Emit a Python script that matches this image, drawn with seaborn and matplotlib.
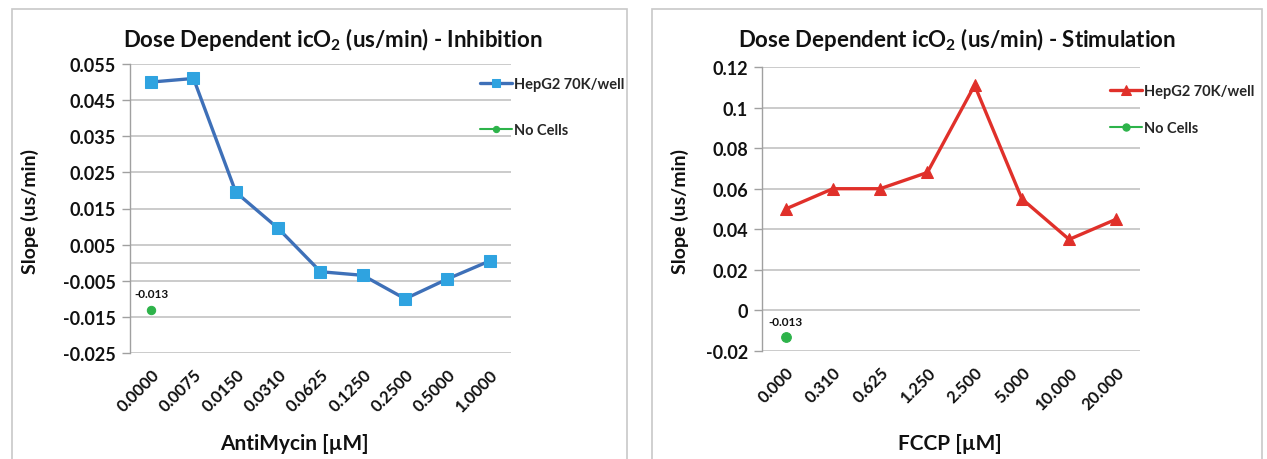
import numpy as np
import pandas as pd
import matplotlib
matplotlib.use("Agg")
import matplotlib.pyplot as plt
from matplotlib.patches import Rectangle
import seaborn as sns

# ---------------- data ----------------
antimycin_doses = ["0.0000", "0.0075", "0.0150", "0.0310", "0.0625",
                   "0.1250", "0.2500", "0.5000", "1.0000"]
antimycin_hepg2 = [0.050, 0.051, 0.0195, 0.0095, -0.0025, -0.0035, -0.010, -0.0045, 0.0005]
antimycin_nocells = [-0.013]

fccp_doses = ["0.000", "0.310", "0.625", "1.250", "2.500", "5.000", "10.000", "20.000"]
fccp_hepg2 = [0.050, 0.060, 0.060, 0.068, 0.111, 0.055, 0.035, 0.045]
fccp_nocells = [-0.013]

left_yticks = [0.055, 0.045, 0.035, 0.025, 0.015, 0.005, -0.005, -0.015, -0.025]
left_yticklabels = ["0.055", "0.045", "0.035", "0.025", "0.015", "0.005", "-0.005", "-0.015", "-0.025"]
right_yticks = [0.12, 0.1, 0.08, 0.06, 0.04, 0.02, 0, -0.02]
right_yticklabels = ["0.12", "0.1", "0.08", "0.06", "0.04", "0.02", "0", "-0.02"]

series_label = "HepG2 70K/well"
nocells_label = "No Cells"
nocells_text = "-0.013"

# ---------------- style ----------------
sns.set_theme(style="white")
FONT = "Lato"
plt.rcParams["font.family"] = [FONT, "DejaVu Sans"]
plt.rcParams["font.weight"] = "bold"
plt.rcParams["mathtext.fontset"] = "custom"
plt.rcParams["mathtext.rm"] = "Lato:bold"
plt.rcParams["mathtext.it"] = "Lato:bold"
plt.rcParams["mathtext.bf"] = "Lato:bold"

W, H = 1267, 460
fig = plt.figure(figsize=(W / 100, H / 100), dpi=100)
fig.patch.set_facecolor("white")

def fx(px):
    return px / W

def fy(py):
    return 1 - py / H

# panel frames
for x0, x1 in [(12, 627), (652, 1262)]:
    fig.patches.append(Rectangle((fx(x0), fy(462)), fx(x1 - x0), fy(10) - fy(462),
                                 transform=fig.transFigure, fill=False,
                                 edgecolor="#C8C8C8", linewidth=1.2))

GRID = "#BDBDBD"
TXT = "#111111"

def style_axes(ax, cats, yticks, ylabels, ylim):
    ax.set_xlim(-0.5, len(cats) - 0.5)
    ax.set_ylim(*ylim)
    ax.set_yticks(yticks)
    ax.set_yticklabels(ylabels, fontsize=13, fontweight="bold", color=TXT)
    ax.set_xticks(np.arange(len(cats)))
    ax.set_xticklabels(cats, rotation=45, ha="right", rotation_mode="anchor",
                       fontsize=12, fontweight="bold", color=TXT)
    ax.yaxis.grid(True, color=GRID, linewidth=1.1)
    ax.set_axisbelow(True)
    for s in ["top", "right", "bottom"]:
        ax.spines[s].set_visible(False)
    ax.spines["left"].set_color("#A0A0A0")
    ax.spines["left"].set_linewidth(1.0)
    ax.tick_params(axis="y", length=6, width=1, color="#A0A0A0", pad=4, direction="out", left=True)
    ax.tick_params(axis="x", length=0, pad=9)
    ax.set_xlabel("")
    ax.set_ylabel("")

legend_kw = dict(frameon=False, handlelength=2.2, handletextpad=0.1,
                 borderpad=0, borderaxespad=0, markerscale=0.75,
                 prop={"family": FONT, "weight": "bold", "size": 10.5})

# ---------------- left panel ----------------
axL = fig.add_axes([fx(130), fy(354), fx(511 - 130), fy(65) - fy(354)])
xL = np.arange(len(antimycin_doses))
dfL = pd.DataFrame({"x": xL, "y": antimycin_hepg2})
sns.lineplot(data=dfL, x="x", y="y", ax=axL, color="#3E70B8", linewidth=2.4,
             marker="s", markersize=8, markerfacecolor="#2FA3E0",
             markeredgecolor="#2FA3E0", label=series_label)
dfLn = pd.DataFrame({"x": [0], "y": antimycin_nocells})
sns.lineplot(data=dfLn, x="x", y="y", ax=axL, color="#2DB34A", linewidth=1.5,
             marker="o", markersize=6, markeredgecolor="#2DB34A", label=nocells_label)
axL.axhline(0, color=GRID, linewidth=1.1, zorder=0.5)
style_axes(axL, antimycin_doses, left_yticks, left_yticklabels, (-0.025, 0.055))
axL.annotate(nocells_text, (0, antimycin_nocells[0]), xytext=(0, 8),
             textcoords="offset points", ha="center", va="bottom",
             fontsize=8.5, fontweight="bold", color=TXT)
axL.legend(loc="upper left", bbox_to_anchor=(fx(480), fy(78)), bbox_transform=fig.transFigure,
           labelspacing=2.2, **legend_kw)

fig.text(fx(333), fy(40), r"Dose Dependent icO$_2$ (us/min) - Inhibition", ha="center", va="center",
         fontsize=16, fontweight="bold", color=TXT)
fig.text(fx(30), fy(212), "Slope (us/min)", rotation=90, ha="center", va="center",
         fontsize=14, fontweight="bold", color=TXT)
fig.text(fx(294), fy(444), "AntiMycin [µM]", ha="center", va="center",
         fontsize=15, fontweight="bold", color=TXT)

# ---------------- right panel ----------------
axR = fig.add_axes([fx(762), fy(352), fx(1140 - 762), fy(68) - fy(352)])
xR = np.arange(len(fccp_doses))
dfR = pd.DataFrame({"x": xR, "y": fccp_hepg2})
sns.lineplot(data=dfR, x="x", y="y", ax=axR, color="#E0302A", linewidth=2.4,
             marker="^", markersize=9, markerfacecolor="#E0302A",
             markeredgecolor="#E0302A", label=series_label)
dfRn = pd.DataFrame({"x": [0], "y": fccp_nocells})
sns.lineplot(data=dfRn, x="x", y="y", ax=axR, color="#2DB34A", linewidth=1.5,
             marker="o", markersize=7, markeredgecolor="#2DB34A", label=nocells_label)
style_axes(axR, fccp_doses, right_yticks, right_yticklabels, (-0.02, 0.12))
axR.annotate(nocells_text, (0, fccp_nocells[0]), xytext=(0, 7),
             textcoords="offset points", ha="center", va="bottom",
             fontsize=8.5, fontweight="bold", color=TXT)
axR.legend(loc="upper left", bbox_to_anchor=(fx(1110), fy(85)), bbox_transform=fig.transFigure,
           labelspacing=1.6, **legend_kw)

fig.text(fx(957), fy(40), r"Dose Dependent icO$_2$ (us/min) - Stimulation", ha="center", va="center",
         fontsize=16, fontweight="bold", color=TXT)
fig.text(fx(680), fy(212), "Slope (us/min)", rotation=90, ha="center", va="center",
         fontsize=14, fontweight="bold", color=TXT)
fig.text(fx(950), fy(444), "FCCP [µM]", ha="center", va="center",
         fontsize=15, fontweight="bold", color=TXT)

fig.savefig("out.png", dpi=100, facecolor="white")
